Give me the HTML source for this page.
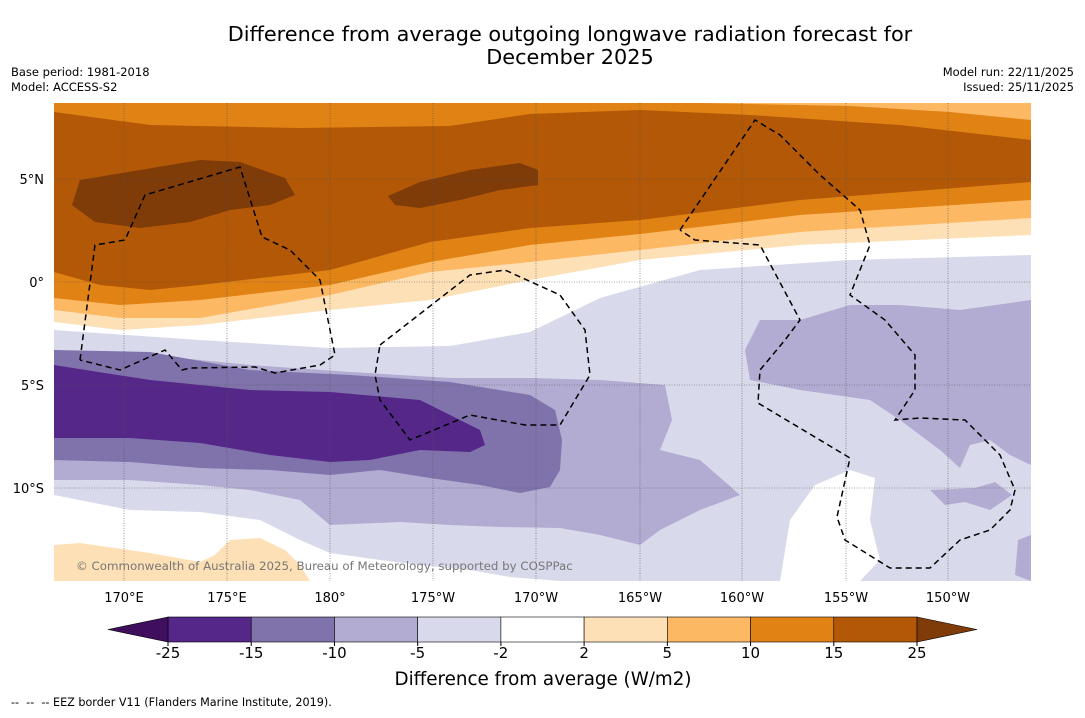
<!DOCTYPE html>
<html><head><meta charset="utf-8">
<style>
body{margin:0;background:#fff;font-family:"Liberation Sans","DejaVu Sans",sans-serif;}
svg text{font-family:"DejaVu Sans","Liberation Sans",sans-serif;}
</style></head>
<body>
<svg width="1085" height="713" viewBox="0 0 1085 713" xmlns="http://www.w3.org/2000/svg">
<rect width="1085" height="713" fill="#fff"/>
<text x="570" y="41" font-size="20.8" text-anchor="middle">Difference from average outgoing longwave radiation forecast for</text>
<text x="570" y="64" font-size="20.8" text-anchor="middle">December 2025</text>
<text x="11" y="76" font-size="11.5">Base period: 1981-2018</text>
<text x="11" y="91" font-size="11.5">Model: ACCESS-S2</text>
<text x="1074" y="76" font-size="11.5" text-anchor="end">Model run: 22/11/2025</text>
<text x="1074" y="91" font-size="11.5" text-anchor="end">Issued: 25/11/2025</text>

<defs><clipPath id="mc"><rect x="54" y="103" width="977" height="478"/></clipPath></defs>
<g clip-path="url(#mc)">
<rect x="54" y="103" width="977" height="478" fill="#fff"/>
<path fill="#d8daeb" d="M54,330 L200,340 L330,348 L450,346 L530,332 L600,298 L700,270 L850,260 L1031,255 L1031,581 L54,581 Z"/>
<path fill="#fff" d="M54,495 L130,510 L200,512 L260,520 L300,540 L330,553 L380,560 L420,565 L470,570 L510,577 L560,581 L54,581 Z"/>
<path fill="#fff" d="M780,581 L790,520 L815,485 L850,470 L875,478 L870,520 L880,560 L860,581 Z"/>
<path fill="#b2abd2" d="M54,350 L150,355 L250,365 L350,372 L450,378 L530,378 L600,380 L665,385 L672,420 L660,450 L700,460 L740,495 L700,510 L660,530 L640,545 L600,535 L560,528 L500,527 L450,525 L400,522 L330,525 L300,500 L250,490 L200,485 L130,480 L54,480 Z"/>
<path fill="#b2abd2" d="M745,350 L760,320 L800,320 L850,305 L900,305 L960,310 L1031,300 L1031,465 L1010,455 L990,440 L970,445 L960,468 L940,450 L900,420 L870,400 L800,390 L750,380 Z"/>
<path fill="#b2abd2" d="M930,490 L975,488 L995,482 L1012,495 L990,510 L965,502 L945,505 Z"/>
<path fill="#b2abd2" d="M1031,535 L1018,540 L1015,575 L1031,581 Z"/>
<path fill="#8073ac" d="M54,350 L150,352 L250,370 L350,375 L450,382 L530,395 L555,410 L562,440 L560,470 L550,487 L520,493 L480,485 L430,478 L380,470 L330,475 L270,470 L200,468 L130,462 L54,460 Z"/>
<path fill="#542788" d="M54,365 L150,380 L250,390 L330,392 L420,400 L460,420 L480,430 L485,445 L470,452 L420,450 L370,460 L330,462 L270,455 L200,443 L130,438 L54,438 Z"/>
<path fill="#fee0b6" d="M54,103 L1031,103 L1031,235 L800,245 L640,260 L530,280 L430,300 L330,310 L200,325 L120,330 L54,322 Z"/>
<path fill="#fdb863" d="M54,103 L1031,103 L1031,218 L800,232 L640,250 L530,262 L430,272 L330,295 L200,318 L120,318 L54,310 Z"/>
<path fill="#e08214" d="M54,103 L1031,103 L1031,200 L800,215 L640,234 L530,245 L430,262 L330,285 L200,300 L120,305 L54,298 Z"/>
<path fill="#b35806" d="M54,112 L150,125 L300,128 L450,126 L530,114 L640,110 L750,115 L900,125 L1031,140 L1031,182 L800,200 L640,220 L530,228 L430,242 L330,270 L200,285 L150,290 L100,285 L54,272 Z"/>
<path fill="#fdb863" d="M700,103 L1031,103 L1031,120 L950,112 L850,106 Z"/>
<path fill="#7f3b08" d="M80,180 L140,170 L200,160 L240,162 L285,178 L295,195 L270,205 L230,210 L190,222 L140,228 L95,222 L72,205 Z"/>
<path fill="#7f3b08" d="M388,196 L420,182 L470,170 L520,163 L538,170 L538,185 L500,190 L460,200 L420,208 L395,205 Z"/>
<path fill="#fee0b6" d="M54,545 L80,543 L150,553 L200,562 L215,555 L230,540 L260,538 L285,550 L300,565 L310,581 L54,581 Z"/>
<g stroke="#555" stroke-width="0.6" stroke-dasharray="1,1.5">
<line x1="124" y1="103" x2="124" y2="581"/><line x1="227" y1="103" x2="227" y2="581"/><line x1="330" y1="103" x2="330" y2="581"/><line x1="433" y1="103" x2="433" y2="581"/><line x1="536" y1="103" x2="536" y2="581"/><line x1="640" y1="103" x2="640" y2="581"/><line x1="742" y1="103" x2="742" y2="581"/><line x1="846" y1="103" x2="846" y2="581"/><line x1="948" y1="103" x2="948" y2="581"/>
<line x1="54" y1="179" x2="1031" y2="179"/><line x1="54" y1="282" x2="1031" y2="282"/><line x1="54" y1="385" x2="1031" y2="385"/><line x1="54" y1="488" x2="1031" y2="488"/>
</g>
<g fill="none" stroke="#000" stroke-width="1.5" stroke-dasharray="6,4">
<path d="M80,360 L95,245 L125,240 L145,195 L240,167 L262,237 L290,250 L320,280 L335,355 L320,365 L275,373 L255,367 L190,368 L182,370 L165,350 L120,370 L80,360"/>
<path d="M380,345 L470,275 L505,270 L560,295 L585,330 L590,375 L560,425 L525,425 L470,415 L410,440 L380,400 L375,375 L380,345"/>
<path d="M680,230 L755,120 L780,135 L820,175 L860,210 L870,245 L850,295 L885,320 L915,355 L915,390 L895,420 L920,418 L965,420 L1000,455 L1015,490 L1010,510 L990,530 L960,540 L930,568 L890,568 L845,540 L837,517 L850,458 L758,403 L760,370 L785,340 L800,320 L760,245 L695,240 L680,230"/>
</g>
<text x="76" y="570" font-size="11.8" fill="#777">© Commonwealth of Australia 2025, Bureau of Meteorology, supported by COSPPac</text>
</g>

<g font-size="13">
<text x="44" y="184" text-anchor="end">5°N</text><text x="44" y="287" text-anchor="end">0°</text><text x="44" y="390" text-anchor="end">5°S</text><text x="44" y="493" text-anchor="end">10°S</text>
</g>
<g font-size="13" text-anchor="middle">
<text x="124" y="602">170°E</text><text x="227" y="602">175°E</text><text x="330" y="602">180°</text><text x="433" y="602">175°W</text><text x="536" y="602">170°W</text><text x="640" y="602">165°W</text><text x="742" y="602">160°W</text><text x="846" y="602">155°W</text><text x="948" y="602">150°W</text>
</g>
<g id="cbar"></g>
<text x="543" y="685" font-size="18.3" text-anchor="middle">Difference from average (W/m2)</text>
<text x="11" y="706" font-size="11.2" style="white-space:pre">--  --  -- EEZ border V11 (Flanders Marine Institute, 2019).</text>
</svg>
<script>
const tickLabels = ["-25","-15","-10","-5","-2","2","5","10","15","25"];
const bandColors = ["#542788","#8073ac","#b2abd2","#d8daeb","#ffffff","#fee0b6","#fdb863","#e08214","#b35806"];
const extendColors = ["#3f0f5e","#7f3b08"];
const NS="http://www.w3.org/2000/svg";
const g=document.getElementById('cbar');
const x0=168,x1=917,y0=617,h=25,n=bandColors.length,w=(x1-x0)/n;
function mk(t,a){const e=document.createElementNS(NS,t);for(const k in a)e.setAttribute(k,a[k]);g.appendChild(e);return e;}
bandColors.forEach((c,i)=>{
  const r=mk('rect',{x:x0+i*w,y:y0,width:w,height:h,fill:c,stroke:'#000','stroke-width':0.6});
  
  
});
const lt=mk('polygon',{points:`${x0},${y0} ${x0-60},${y0+h/2} ${x0},${y0+h}`,fill:extendColors[0],stroke:'#000','stroke-width':0.6});


const rt=mk('polygon',{points:`${x1},${y0} ${x1+60},${y0+h/2} ${x1},${y0+h}`,fill:extendColors[1],stroke:'#000','stroke-width':0.6});


tickLabels.forEach((t,i)=>{
  const x=x0+i*w;
  const l=mk('line',{x1:x,x2:x,y1:y0+h,y2:y0+h+4,stroke:'#000'});
  
  
  const tx=mk('text',{x:x,y:658,'font-size':15,'text-anchor':'middle'});
  tx.textContent=t;
  
  
});
</script>
</body></html>
